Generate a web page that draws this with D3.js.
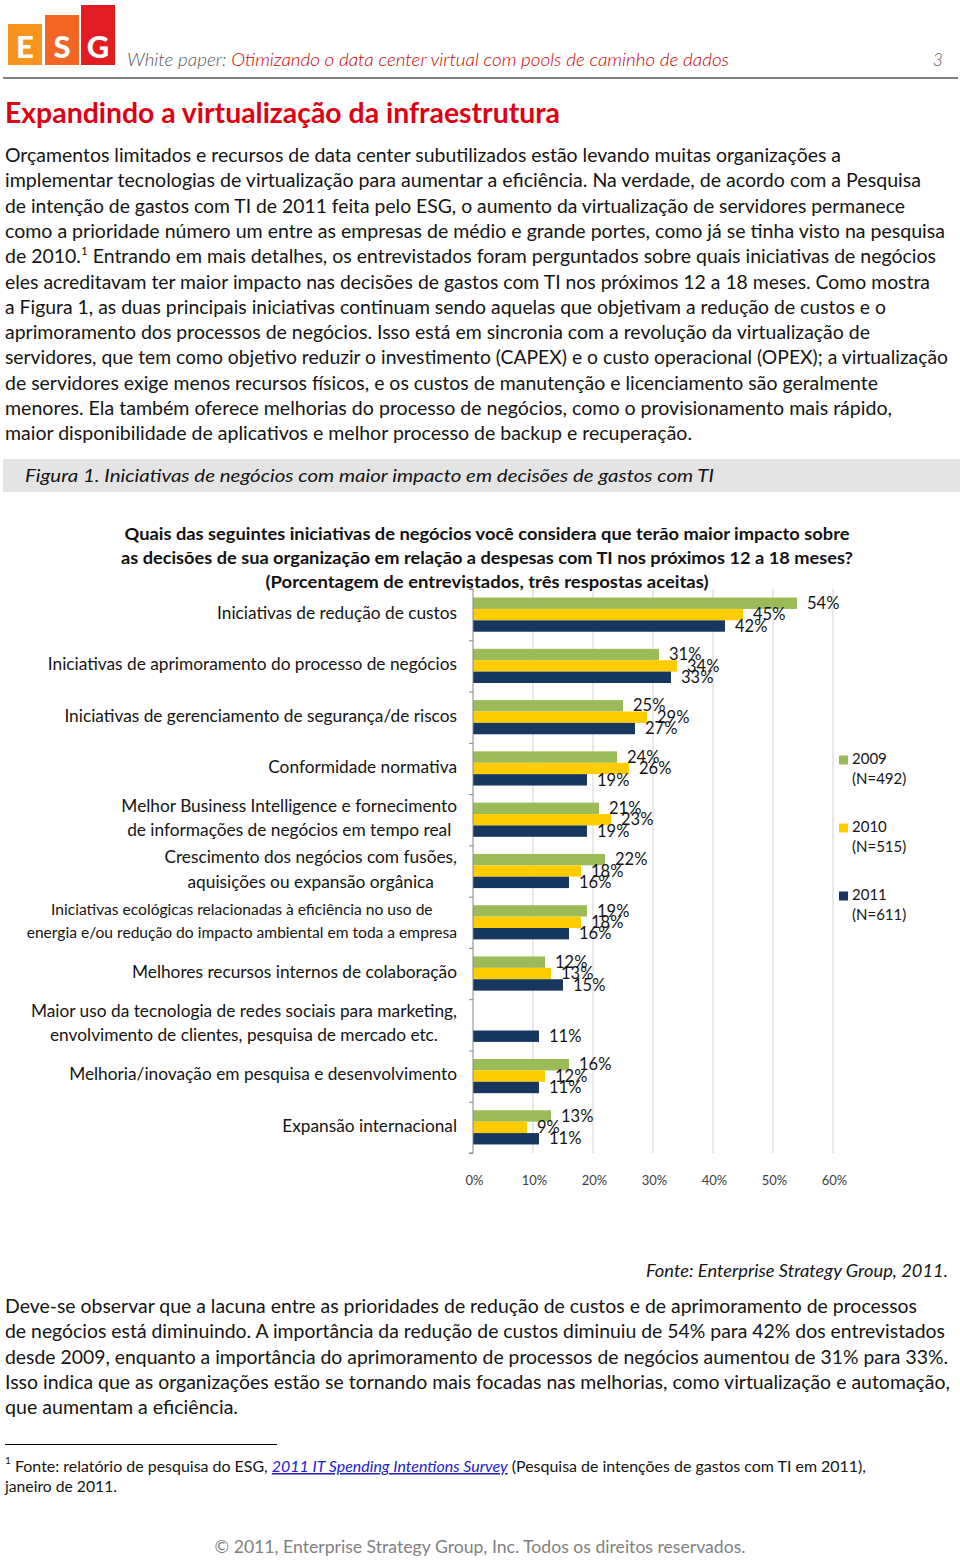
<!DOCTYPE html>
<html>
<head>
<meta charset="utf-8">
<script src="https://cdn.jsdelivr.net/npm/d3@7"></script>
<style>
  html, body { margin: 0; padding: 0; background: #fff; }
  svg { display: block; }
  text { font-family: Lato, "Open Sans", sans-serif; }
</style>
</head>
<body>
<svg id="page" width="960" height="1560"></svg>
<script>
// ---------------- DATA ----------------
const categories = [
  ["Iniciativas de redução de custos"],
  ["Iniciativas de aprimoramento do processo de negócios"],
  ["Iniciativas de gerenciamento de segurança/de riscos"],
  ["Conformidade normativa"],
  ["Melhor Business Intelligence e fornecimento", "de informações de negócios em tempo real"],
  ["Crescimento dos negócios com fusões,", "aquisições ou expansão orgânica"],
  ["Iniciativas ecológicas relacionadas à eficiência no uso de", "energia e/ou redução do impacto ambiental em toda a empresa"],
  ["Melhores recursos internos de colaboração"],
  ["Maior uso da tecnologia de redes sociais para marketing,", "envolvimento de clientes, pesquisa de mercado etc."],
  ["Melhoria/inovação em pesquisa e desenvolvimento"],
  ["Expansão internacional"]
];
const values2009 = [54, 31, 25, 24, 21, 22, 19, 12, null, 16, 13];
const values2010 = [45, 34, 29, 26, 23, 18, 18, 13, null, 12, 9];
const values2011 = [42, 33, 27, 19, 19, 16, 16, 15, 11, 11, 11];
const seriesNames = ["2009", "2010", "2011"];
const seriesNotes = ["(N=492)", "(N=515)", "(N=611)"];
const xTickValues = [0, 10, 20, 30, 40, 50, 60];
const chartTitle = [
  "Quais das seguintes iniciativas de negócios você considera que terão maior impacto sobre",
  "as decisões de sua organização em relação a despesas com TI nos próximos 12 a 18 meses?",
  "(Porcentagem de entrevistados, três respostas aceitas)"
];

// ---------------- PAGE ----------------
const svg = d3.select("#page");
const ink = "#141414";

function txt(x, y, str, o = {}) {
  const t = svg.append("text").attr("x", x).attr("y", y)
    .attr("font-size", o.size || 18.5)
    .attr("fill", o.fill || ink)
    .attr("font-weight", o.weight || null)
    .attr("font-style", o.style || null)
    .attr("text-anchor", o.anchor || null)
    .text(str);
  if (o.w) t.attr("textLength", o.w).attr("lengthAdjust", "spacingAndGlyphs");
  return t;
}

// Header logo
const logo = [
  {l: "E", x: 8, y: 24, c: "#F7941D"},
  {l: "S", x: 45, y: 15, c: "#F26522"},
  {l: "G", x: 81, y: 5, c: "#E31B23"}
];
logo.forEach(d => {
  svg.append("rect").attr("x", d.x).attr("y", d.y).attr("width", 34).attr("height", 65 - d.y).attr("fill", d.c);
  svg.append("text").attr("x", d.x + 17).attr("y", 58).attr("text-anchor", "middle")
    .attr("font-size", 31).attr("font-weight", 900).attr("fill", "#fff")
    .attr("font-family", "'DejaVu Sans', sans-serif").text(d.l);
});
const hdr = svg.append("text").attr("x", 127).attr("y", 66).attr("font-size", 17.5)
  .attr("font-style", "italic").attr("font-weight", 300)
  .attr("textLength", 602).attr("lengthAdjust", "spacingAndGlyphs");
hdr.append("tspan").attr("fill", "#595959").text("White paper: ");
hdr.append("tspan").attr("fill", "#D00000").text("Otimizando o data center virtual com pools de caminho de dados");
txt(943, 66, "3", {size: 17.5, style: "italic", fill: "#595959", anchor: "end"}).attr("font-weight", 300);
svg.append("rect").attr("x", 3).attr("y", 77).attr("width", 955).attr("height", 2).attr("fill", "#7f7f7f");

// Section title
txt(5, 123, "Expandindo a virtualização da infraestrutura", {size: 28, weight: 700, fill: "#E00012", w: 555});

// Body paragraph
const body = [
  ["Orçamentos limitados e recursos de data center subutilizados estão levando muitas organizações a", 836],
  ["implementar tecnologias de virtualização para aumentar a eficiência. Na verdade, de acordo com a Pesquisa", 916],
  ["de intenção de gastos com TI de 2011 feita pelo ESG, o aumento da virtualização de servidores permanece", 900],
  ["como a prioridade número um entre as empresas de médio e grande portes, como já se tinha visto na pesquisa", 940],
  ["SUP", 931],
  ["eles acreditavam ter maior impacto nas decisões de gastos com TI nos próximos 12 a 18 meses. Como mostra", 925],
  ["a Figura 1, as duas principais iniciativas continuam sendo aquelas que objetivam a redução de custos e o", 881],
  ["aprimoramento dos processos de negócios. Isso está em sincronia com a revolução da virtualização de", 865],
  ["servidores, que tem como objetivo reduzir o investimento (CAPEX) e o custo operacional (OPEX); a virtualização", 943],
  ["de servidores exige menos recursos físicos, e os custos de manutenção e licenciamento são geralmente", 873],
  ["menores. Ela também oferece melhorias do processo de negócios, como o provisionamento mais rápido,", 887],
  ["maior disponibilidade de aplicativos e melhor processo de backup e recuperação.", 687]
];
body.forEach((b, i) => {
  const y = 162 + i * 25.3;
  if (b[0] === "SUP") {
    const t = svg.append("text").attr("x", 5).attr("y", y).attr("font-size", 18.5).attr("fill", ink)
      .attr("textLength", b[1]).attr("lengthAdjust", "spacingAndGlyphs");
    t.append("tspan").text("de 2010.");
    t.append("tspan").attr("font-size", 11).attr("dy", -8).text("1");
    t.append("tspan").attr("dy", 8).text(" Entrando em mais detalhes, os entrevistados foram perguntados sobre quais iniciativas de negócios");
  } else {
    txt(5, y, b[0], {w: b[1]});
  }
});

// Figure caption band
svg.append("rect").attr("x", 3).attr("y", 459).attr("width", 957).attr("height", 33).attr("fill", "#E4E4E4");
txt(25, 482, "Figura 1. Iniciativas de negócios com maior impacto em decisões de gastos com TI",
  {size: 18, style: "italic", w: 689});

// ---------------- CHART ----------------
const titleW = [725, 732, 443];
chartTitle.forEach((s, i) => {
  txt(487, 540 + i * 24, s, {size: 17.5, weight: 700, anchor: "middle", w: titleW[i], fill: "#111"});
});

const x0 = 473, yTop = 589, yBot = 1153;
const x = d3.scaleLinear().domain([0, 60]).range([x0, 833]);
const y = d3.scaleBand().domain(d3.range(categories.length)).range([yTop, yBot]).padding(0);
const ySub = d3.scaleBand().domain([0, 1, 2]).range([0, y.bandwidth()]).paddingInner(0).paddingOuter(0.75);
const colors = ["#9BBB59", "#FFCC00", "#17375E"];
const series = [values2009, values2010, values2011];

// gridlines
const grid = svg.append("g");
grid.selectAll("line").data(xTickValues.filter(v => v > 0)).join("line")
  .attr("x1", d => x(d)).attr("x2", d => x(d))
  .attr("y1", yTop).attr("y2", yBot)
  .attr("stroke", "#D9D9D9").attr("stroke-width", 1.2);

// tick labels (x axis)
const xAxis = d3.axisBottom(x).tickValues(xTickValues).tickFormat(d => d + "%").tickSize(0).tickPadding(0);
const xg = svg.append("g").attr("transform", `translate(1,${1185})`).call(xAxis);
xg.select(".domain").remove();
xg.selectAll("text").attr("font-size", 13).attr("fill", "#404040").attr("dy", 0)
  .attr("font-family", "Lato, sans-serif");

// bars
series.forEach((vals, si) => {
  const g = svg.append("g");
  const data = vals.map((v, i) => ({v, i})).filter(d => d.v != null);
  g.selectAll("rect").data(data).join("rect")
    .attr("x", x(0))
    .attr("y", d => y(d.i) + ySub(si))
    .attr("width", d => x(d.v) - x(0))
    .attr("height", ySub.bandwidth())
    .attr("fill", colors[si]);
  g.selectAll("text").data(data).join("text")
    .attr("x", d => x(d.v) + 10)
    .attr("y", d => y(d.i) + ySub(si) + ySub.bandwidth() / 2 + 1.5)
    .attr("dominant-baseline", "middle")
    .attr("font-size", 16.5).attr("fill", ink)
    .text(d => d.v + "%");
});

// left axis
const yAxis = d3.axisLeft(d3.scaleLinear().domain([0, categories.length]).range([yTop, yBot]))
  .tickValues(d3.range(categories.length + 1)).tickSize(4).tickFormat("");
const yg = svg.append("g").attr("transform", `translate(${x0},0)`).call(yAxis);
yg.select(".domain").attr("stroke", "#868686").attr("d", `M-4,${yTop}H0V${yBot}H-4`);
yg.selectAll(".tick line").attr("stroke", "#868686");

// category labels
categories.forEach((lines, i) => {
  const small = d3.max(lines, l => l.length) > 58;
  const fs = small ? 15.6 : 17.3;
  const lh = small ? 23 : 24.5;
  const cy = y(i) + y.bandwidth() / 2;
  const g = svg.append("g");
  const texts = lines.map((l, k) => g.append("text")
    .attr("y", cy + (k - (lines.length - 1) / 2) * lh)
    .attr("dominant-baseline", "middle")
    .attr("text-anchor", "middle")
    .attr("font-size", fs).attr("fill", ink).text(l));
  const maxW = d3.max(texts, t => t.node().getComputedTextLength());
  texts.forEach(t => t.attr("x", 457 - maxW / 2));
});

// legend
const leg = svg.append("g");
seriesNames.forEach((s, i) => {
  const ly = 760 + i * 68;
  leg.append("rect").attr("x", 839).attr("y", ly - 4.5).attr("width", 9).attr("height", 9).attr("fill", colors[i]);
  leg.append("text").attr("x", 852).attr("y", ly).attr("dominant-baseline", "middle")
    .attr("font-size", 15).attr("fill", ink).text(s);
  leg.append("text").attr("x", 852).attr("y", ly + 20).attr("dominant-baseline", "middle")
    .attr("font-size", 15).attr("fill", ink).text(seriesNotes[i]);
});

// source
txt(948, 1277, "Fonte: Enterprise Strategy Group, 2011.", {size: 17.5, style: "italic", anchor: "end", w: 302});

// bottom paragraph
const body2 = [
  ["Deve-se observar que a lacuna entre as prioridades de redução de custos e de aprimoramento de processos", 912],
  ["de negócios está diminuindo. A importância da redução de custos diminuiu de 54% para 42% dos entrevistados", 940],
  ["desde 2009, enquanto a importância do aprimoramento de processos de negócios aumentou de 31% para 33%.", 943],
  ["Isso indica que as organizações estão se tornando mais focadas nas melhorias, como virtualização e automação,", 945],
  ["que aumentam a eficiência.", 233]
];
body2.forEach((b, i) => txt(5, 1313 + i * 25.3, b[0], {w: b[1]}));

// footnote
svg.append("line").attr("x1", 5).attr("x2", 277).attr("y1", 1444.5).attr("y2", 1444.5).attr("stroke", "#000").attr("stroke-width", 1);
txt(5, 1464, "1", {size: 10});
const fn = svg.append("text").attr("x", 15).attr("y", 1472).attr("font-size", 15.5).attr("fill", ink)
  .attr("textLength", 851).attr("lengthAdjust", "spacingAndGlyphs");
fn.append("tspan").text("Fonte: relatório de pesquisa do ESG, ");
fn.append("tspan").attr("fill", "#2222CC").attr("font-style", "italic").attr("text-decoration", "underline")
  .style("text-decoration", "underline").text("2011 IT Spending Intentions Survey");
fn.append("tspan").text(" (Pesquisa de intenções de gastos com TI em 2011),");
txt(5, 1492, "janeiro de 2011.", {size: 15.5, w: 112});

// copyright
txt(480, 1553, "© 2011, Enterprise Strategy Group, Inc. Todos os direitos reservados.", {size: 17.5, anchor: "middle", fill: "#7F7F7F", w: 531});
</script>
</body>
</html>
